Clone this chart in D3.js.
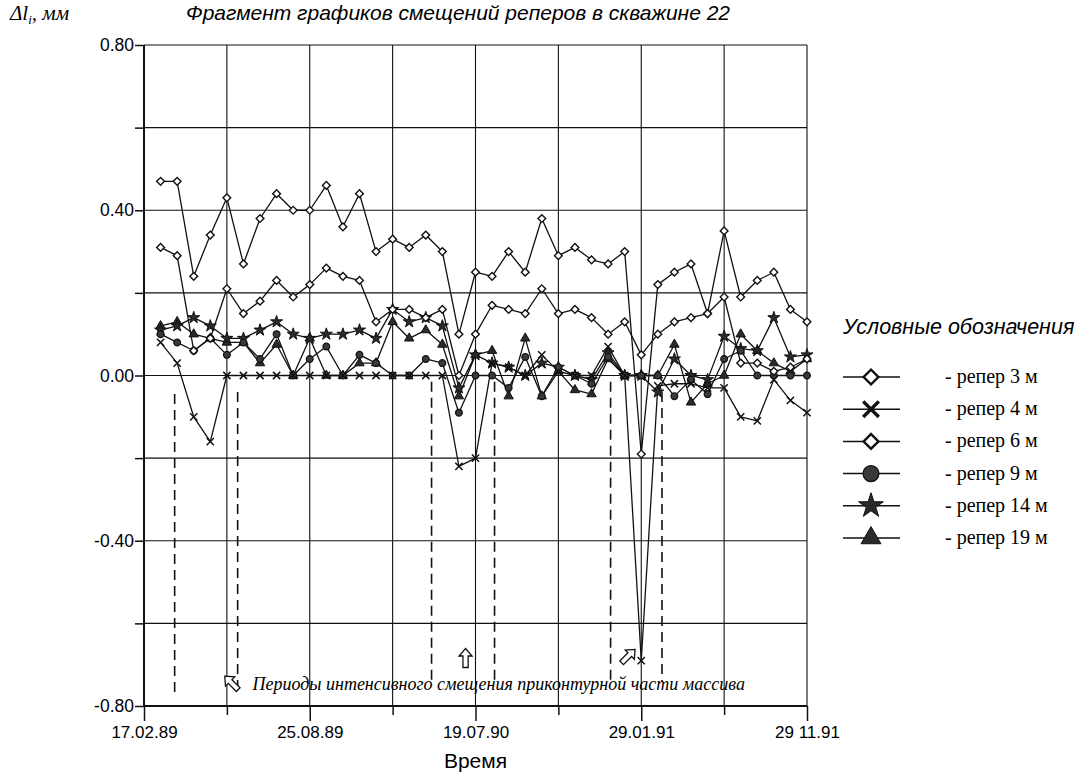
<!DOCTYPE html>
<html><head><meta charset="utf-8">
<script src="https://cdn.jsdelivr.net/npm/d3@7"></script>
<style>body{margin:0;background:#fff}</style>
</head><body>
<svg id="c" width="1084" height="777"></svg>
<script>
// ---------- DATA ----------
const pointIdx = d3.range(1, 41);               // 40 measurement dates (category positions)
const xTickIdx = [0, 10, 20, 30, 40];
const xTickLabels = ["17.02.89", "25.08.89", "19.07.90", "29.01.91", "29 11.91"];
const yTickVals = [0.8, 0.4, 0, -0.4, -0.8];
const yTickLabels = ["0.80", "0.40", "0.00", "-0.40", "-0.80"];

const rep3 = [0.47,0.47,0.24,0.34,0.43,0.27,0.38,0.44,0.40,0.40,
              0.46,0.36,0.44,0.30,0.33,0.31,0.34,0.30,0.10,0.25,
              0.24,0.30,0.25,0.38,0.29,0.31,0.28,0.27,0.30,-0.19,
              0.22,0.25,0.27,0.15,0.35,0.19,0.23,0.25,0.16,0.13];
const rep4 = [0.08,0.03,-0.10,-0.16,0.00,0.00,0.00,0.00,0.00,0.00,
              0.00,0.00,0.00,0.00,0.00,0.00,0.00,0.00,-0.22,-0.20,
              0.03,0.02,0.00,0.05,0.01,0.00,0.00,0.07,0.00,-0.69,
              -0.025,-0.02,-0.02,-0.03,-0.03,-0.10,-0.11,-0.01,-0.06,-0.09];
const rep6 = [0.31,0.29,0.06,0.09,0.21,0.15,0.18,0.23,0.19,0.22,
              0.26,0.24,0.23,0.13,0.16,0.16,0.14,0.16,0.00,0.10,
              0.17,0.16,0.15,0.21,0.15,0.16,0.14,0.10,0.13,0.05,
              0.10,0.13,0.14,0.15,0.19,0.03,0.03,0.01,0.02,0.04];
const rep9 = [0.10,0.08,0.06,0.09,0.05,0.08,0.04,0.10,0.00,0.04,
              0.07,0.00,0.05,0.03,0.00,0.00,0.04,0.03,-0.09,0.00,
              0.00,-0.03,0.045,-0.05,0.02,0.00,-0.02,0.045,0.00,0.00,
              0.00,-0.05,-0.01,-0.045,0.04,0.06,0.00,0.00,0.00,0.00];
const rep14 = [0.11,0.12,0.14,0.12,0.09,0.09,0.11,0.13,0.10,0.09,
               0.10,0.10,0.11,0.09,0.16,0.13,0.14,0.12,-0.03,0.05,
               0.03,0.02,0.00,0.03,0.02,0.00,-0.01,0.055,0.00,0.00,
               -0.04,0.04,0.00,-0.01,0.095,0.065,0.06,0.14,0.045,0.05];
const rep19 = [0.12,0.13,0.10,0.09,0.08,0.08,0.03,0.075,0.00,0.09,
               0.00,0.00,0.03,0.03,0.13,0.09,0.11,0.075,-0.05,0.05,
               0.06,-0.05,0.09,-0.05,0.01,-0.035,-0.045,0.04,0.00,0.00,
               0.00,0.075,-0.065,-0.02,0.00,0.10,0.06,0.03,0.01,0.04];

const seriesLabels = ["- репер 3 м","- репер 4 м","- репер 6 м","- репер 9 м","- репер 14 м","- репер 19 м"];
const seriesMarkers = ["diamond","times","diamond","circle","star","triangle"];

// periods of intensive displacement (dashed markers), in category units
const periodPos    = [1.85, 5.65, 17.35, 21.15, 28.15, 31.25];
const periodTop    = [-0.045, -0.04, -0.015, -0.015, -0.015, -0.04];
const periodBottom = [-0.78, -0.76, -0.74, -0.74, -0.74, -0.74];
// hollow arrows: position (category units, value) and direction angle
const arrowPos = [5.3, 19.4, 29.2];
const arrowVal = [-0.745, -0.685, -0.68];
const arrowRot = [-45, 0, 45];

// ---------- CHART ----------
const svg = d3.select("#c");
const x = d3.scaleLinear().domain([0, 40]).range([144, 807]);
const y = d3.scaleLinear().domain([-0.8, 0.8]).range([706, 45]);
const ink = "#111";
const SANS = "Liberation Sans, Arial, sans-serif";
const SERIF = "Liberation Serif, Times New Roman, serif";

// grid
const g = svg.append("g");
g.selectAll(".vg").data(d3.range(0, 41, 5)).join("line")
  .attr("x1", d => x(d)).attr("x2", d => x(d)).attr("y1", y(0.8)).attr("y2", y(-0.8))
  .attr("stroke", ink).attr("stroke-width", d => (d === 0 ? 2 : 1.1));
g.selectAll(".hg").data(d3.range(-4, 5).map(k => k * 0.2)).join("line")
  .attr("x1", x(0)).attr("x2", x(40)).attr("y1", d => y(d)).attr("y2", d => y(d))
  .attr("stroke", ink).attr("stroke-width", d => (Math.abs(d + 0.8) < 1e-6 ? 2 : 1.1));

// y axis ticks + labels
const yAxis = d3.axisLeft(y).tickValues(d3.range(-4, 5).map(k => k * 0.2)).tickSize(9)
  .tickFormat(d => { const k = yTickVals.findIndex(v => Math.abs(v - d) < 1e-6); return k >= 0 ? yTickLabels[k] : ""; });
const ya = svg.append("g").attr("transform", `translate(${x(0)},0)`).call(yAxis);
ya.select(".domain").remove();
ya.selectAll("line").attr("stroke", ink).attr("stroke-width", 1.5);
ya.selectAll("text").attr("font-family", SANS).attr("font-size", 17.5).attr("fill", "#000").attr("x", -10);

// x axis ticks + labels
const xAxis = d3.axisBottom(x).tickValues(d3.range(0, 41, 5)).tickSize(0)
  .tickFormat(d => { const k = xTickIdx.indexOf(d); return k >= 0 ? xTickLabels[k] : ""; });
const xa = svg.append("g").attr("transform", `translate(0,${y(-0.8)})`).call(xAxis);
xa.select(".domain").remove();
xa.selectAll(".tick line").attr("y2", d => (xTickIdx.includes(d) ? 15 : 9)).attr("stroke", ink).attr("stroke-width", 1.5);
xa.selectAll("text").attr("font-family", SANS).attr("font-size", 17).attr("fill", "#000").attr("y", 20);

// period dashed lines
svg.append("g").selectAll("line").data(periodPos).join("line")
  .attr("x1", d => x(d)).attr("x2", d => x(d))
  .attr("y1", (d, i) => y(periodTop[i])).attr("y2", (d, i) => y(periodBottom[i]))
  .attr("stroke", ink).attr("stroke-width", 1.6).attr("stroke-dasharray", "10,6");

// arrows
const arrowPath = "M0,-10 L6.5,-2.5 L2.6,-2.5 L2.6,9 L-2.6,9 L-2.6,-2.5 L-6.5,-2.5 Z";
svg.append("g").selectAll("path").data(arrowPos).join("path")
  .attr("d", arrowPath)
  .attr("transform", (d, i) => `translate(${x(d)},${y(arrowVal[i])}) rotate(${arrowRot[i]})`)
  .attr("fill", "#fff").attr("stroke", ink).attr("stroke-width", 1.3);

// annotation text
svg.append("text").attr("x", x(21.4)).attr("y", y(-0.8) - 16).attr("text-anchor", "middle")
  .attr("font-family", SERIF).attr("font-style", "italic")
  .attr("font-size", 18).text("Периоды интенсивного смещения приконтурной части массива");

// markers
function markerPath(type, size) {
  const map = { diamond: d3.symbolSquare, times: d3.symbolTimes, circle: d3.symbolCircle, star: d3.symbolStar, triangle: d3.symbolTriangle };
  return d3.symbol().type(map[type]).size(size)();
}
function styleMarker(sel, type, big) {
  if (type === "diamond") sel.attr("fill", "#fff").attr("stroke", ink).attr("stroke-width", big ? 2.4 : 1.4);
  else if (type === "times") sel.attr("fill", "none").attr("stroke", ink).attr("stroke-width", big ? 3.4 : 1.5);
  else if (type === "circle") sel.attr("fill", "#3a3a3a").attr("stroke", ink).attr("stroke-width", 1.2);
  else sel.attr("fill", "#2a2a2a").attr("stroke", ink).attr("stroke-width", 1);
}
const rotFor = t => (t === "diamond" ? 45 : 0);
const allSeries = [rep3, rep4, rep6, rep9, rep14, rep19];
const plotSizes = { diamond: 30, times: 36, circle: 36, star: 45, triangle: 38 };
const legSizes = { diamond: 110, times: 160, circle: 200, star: 190, triangle: 170 };
const line = d3.line().x((d, i) => x(pointIdx[i])).y(d => y(d));

// draw lines first (bottom series first), then markers
const order = [5, 4, 3, 2, 1, 0];
order.forEach(si => {
  svg.append("path").datum(allSeries[si]).attr("d", line)
    .attr("fill", "none").attr("stroke", ink).attr("stroke-width", 1.3).attr("stroke-linejoin", "round");
});
order.forEach(si => {
  const type = seriesMarkers[si];
  const sel = svg.append("g").selectAll("path").data(allSeries[si]).join("path")
    .attr("d", markerPath(type, plotSizes[type]))
    .attr("transform", (d, i) => `translate(${x(pointIdx[i])},${y(d)}) rotate(${rotFor(type)})`);
  styleMarker(sel, type, false);
});

// titles
svg.append("text").attr("x", 458).attr("y", 20).attr("text-anchor", "middle")
  .attr("font-family", SANS).attr("font-style", "italic")
  .attr("font-size", 21).text("Фрагмент графиков смещений реперов в скважине 22");
const yl = svg.append("text").attr("x", 10).attr("y", 20)
  .attr("font-family", SERIF).attr("font-style", "italic").attr("font-size", 21);
yl.append("tspan").text("Δl");
yl.append("tspan").attr("font-size", 13).attr("dy", 4).text("i");
yl.append("tspan").attr("dy", -4).text(", мм");
svg.append("text").attr("x", (x(0) + x(40)) / 2).attr("y", 768).attr("text-anchor", "middle")
  .attr("font-family", SANS).attr("font-size", 21).text("Время");

// legend
const legY = d3.scalePoint().domain(d3.range(6)).range([377, 538]);
svg.append("text").attr("x", 843).attr("y", 334)
  .attr("font-family", SANS).attr("font-style", "italic")
  .attr("font-size", 21.5).text("Условные обозначения");
const leg = svg.append("g");
d3.range(6).forEach(k => {
  const yy = legY(k);
  leg.append("line").attr("x1", 843).attr("x2", 900).attr("y1", yy).attr("y2", yy).attr("stroke", ink).attr("stroke-width", 1.5);
  const type = seriesMarkers[k];
  const m = leg.append("path").attr("d", markerPath(type, legSizes[type]))
    .attr("transform", `translate(871,${yy}) rotate(${rotFor(type)})`);
  styleMarker(m, type, true);
  leg.append("text").attr("x", 945).attr("y", yy + 6)
    .attr("font-family", SERIF).attr("font-size", 20).text(seriesLabels[k]);
});
</script>
</body></html>
